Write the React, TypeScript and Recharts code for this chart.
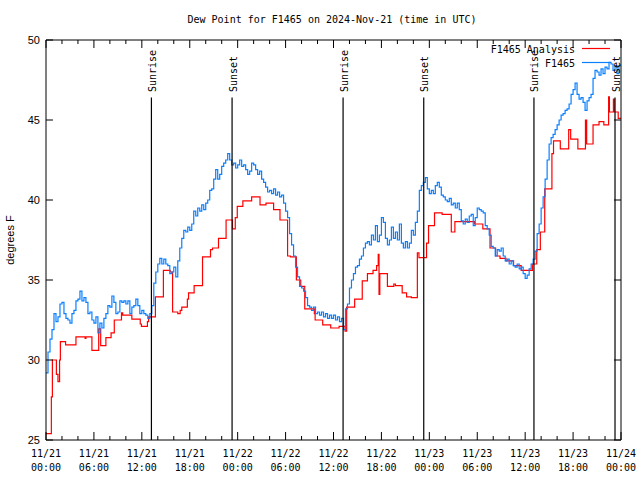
import React from 'react';
import { LineChart, Line, XAxis, YAxis, ReferenceLine } from 'recharts';

// ---------- data ----------
const xTickHours = [0, 2, 4, 6, 8, 10, 12, 14, 16, 18, 20, 22, 24, 26, 28, 30, 32, 34, 36, 38, 40, 42, 44, 46, 48, 50, 52, 54, 56, 58, 60, 62, 64, 66, 68, 70, 72];
const xTickDates = ['11/21', '11/21', '11/21', '11/21', '11/22', '11/22', '11/22', '11/22', '11/23', '11/23', '11/23', '11/23', '11/24'];
const xTickTimes = ['00:00', '06:00', '12:00', '18:00', '00:00', '06:00', '12:00', '18:00', '00:00', '06:00', '12:00', '18:00', '00:00'];
const yTicks = [25, 30, 35, 40, 45, 50];

const sunriseHours = [13.2, 37.2, 61.1];
const sunsetHours = [23.3, 47.3, 71.25];

// F1465 Analysis (hours since 11/21 00:00 UTC, value after change)
const redHours = [0, 0.67, 0.8, 1.3, 1.5, 1.7, 1.8, 2.45, 3.75, 4.9, 5.0, 5.75, 6.6, 6.85, 7.5, 8.15, 8.55, 9.45, 9.6, 10.75, 11.8, 11.95, 12.7, 12.85, 13.7, 14.7, 15.55, 15.85, 16.5, 16.8, 17.0, 17.7, 17.85, 18.55, 19.6, 20.6, 20.85, 21.6, 22.55, 23.35, 23.7, 23.95, 24.65, 25.75, 26.8, 27.55, 28.5, 29.3, 30.25, 30.6, 31.35, 31.9, 32.4, 33.6, 33.7, 34.65, 35.65, 36.7, 37.45, 37.65, 38.65, 39.6, 40.25, 40.95, 41.4, 41.6, 41.7, 41.8, 42.75, 43.55, 43.75, 44.6, 45.15, 45.75, 46.5, 46.7, 47.65, 47.9, 48.65, 49.6, 50.75, 51.2, 53.65, 54.7, 55.6, 56.3, 56.85, 57.6, 58.55, 59.5, 60.9, 61.45, 61.9, 62.45, 63.35, 63.55, 64.4, 65.45, 65.7, 66.6, 67.55, 67.7, 68.5, 69.25, 69.85, 70.45, 70.55, 71.05, 71.15, 71.65, 72];
const redValues = [25.4, 27.7, 30.0, 29.1, 28.65, 30.0, 31.15, 30.95, 31.45, 31.35, 31.45, 30.6, 31.95, 30.9, 31.4, 31.7, 32.5, 32.95, 32.8, 32.55, 32.25, 32.1, 32.4, 32.7, 33.95, 35.6, 35.5, 33.0, 32.9, 33.1, 33.3, 33.8, 34.2, 34.65, 36.45, 36.9, 37.0, 37.6, 38.75, 38.2, 38.9, 39.6, 39.95, 40.2, 39.7, 39.8, 39.4, 38.75, 36.5, 36.45, 35.0, 34.6, 33.2, 32.9, 32.5, 32.2, 32.0, 32.1, 31.8, 33.3, 33.8, 34.95, 35.4, 35.6, 35.9, 36.6, 34.1, 35.4, 34.6, 34.75, 34.65, 34.2, 33.95, 33.9, 36.7, 36.4, 37.3, 38.4, 39.2, 39.1, 38.0, 38.65, 38.5, 38.2, 37.0, 36.5, 36.35, 36.2, 35.9, 35.6, 36.0, 36.9, 38.0, 40.7, 42.9, 43.7, 43.2, 44.4, 43.8, 43.2, 45.0, 43.5, 44.7, 44.9, 44.7, 46.45, 45.5, 46.3, 45.5, 45.1, 45.1];

// F1465 observations, every 15 minutes from 11/21 00:00 UTC
const blueStepHours = 0.25;
const blueValues = [
  29.2, 30.5, 31.3, 31.9, 32.9, 32.4, 32.7, 33.5,
  33.6, 32.9, 32.6, 32.5, 32.3, 32.9, 33.1, 33.7,
  33.8, 34.3, 33.7, 33.9, 33.6, 32.9, 33.0, 32.5,
  32.3, 32.7, 31.7, 32.3, 32.0, 32.6, 32.9, 33.4,
  33.3, 34.0, 33.6, 32.9, 33.0, 33.7, 33.6, 33.7,
  33.5, 33.7, 32.9, 33.3, 33.4, 33.8, 33.4, 32.9,
  33.1, 32.9, 32.8, 32.6, 32.9, 33.4, 34.8, 35.5,
  36.0, 36.35, 36.0, 36.3, 36.0, 35.9, 35.4, 35.5,
  35.8, 35.2, 36.2, 37.0, 37.6, 38.1, 38.0, 38.3,
  38.1, 38.5, 39.3, 39.0, 39.5, 39.3, 39.7, 39.4,
  39.8, 40.0, 40.6, 40.7, 41.3, 41.9, 41.3, 41.6,
  42.1, 42.3, 42.5, 42.9, 42.5, 42.2, 42.3, 42.0,
  42.2, 42.5, 42.1, 42.2, 41.9, 41.6, 41.8, 42.3,
  42.2, 41.9, 41.6, 41.8, 41.3, 41.1, 40.8, 40.5,
  40.6, 40.4, 40.7, 40.3, 40.5, 40.2, 40.3, 39.8,
  39.3, 38.9, 37.9, 37.2, 36.5, 35.8, 35.2, 34.6,
  34.5, 34.3, 33.9, 33.4, 33.3, 33.1, 33.3, 32.9,
  33.0, 32.8, 33.0, 32.7, 32.9, 32.6, 32.8, 32.6,
  32.8, 32.5, 32.7, 32.4, 32.6, 31.9, 33.2, 33.5,
  34.5, 35.0, 35.4, 35.8, 35.9, 36.3, 36.5, 37.0,
  37.3, 37.4, 37.2, 37.8, 37.5, 38.4, 37.4, 37.8,
  38.9, 38.6, 37.6, 37.2, 37.5, 38.3, 37.6, 38.0,
  37.5, 38.5, 37.3, 37.0, 37.4, 37.0, 37.3, 38.1,
  37.8, 38.6, 39.3, 40.6, 40.9, 41.1, 41.4, 40.7,
  40.4, 40.6, 40.4, 40.9, 41.1, 40.8, 40.3, 40.2,
  40.0, 39.9, 40.1, 39.7, 39.8, 39.5, 39.8, 39.4,
  38.7, 38.5, 38.8, 38.6, 39.0, 39.1, 38.4, 38.9,
  39.5, 39.4, 39.3, 39.2, 38.4, 38.2, 37.8, 37.1,
  37.0, 36.5, 36.9, 36.8, 37.0, 36.5, 36.2, 36.3,
  36.0, 36.2, 35.9, 35.8, 36.0, 35.7, 35.8, 35.4,
  35.1, 35.3, 35.7, 36.0, 36.3, 36.8, 37.9, 38.5,
  39.5, 40.2, 41.3, 42.5, 43.5, 43.9, 44.1, 44.4,
  44.7, 45.0, 45.3, 45.4, 45.6, 45.7, 46.0, 46.6,
  46.9, 47.3, 46.6, 46.3, 46.4, 46.1, 45.6, 46.2,
  46.4, 46.6, 47.6, 48.1, 48.0, 47.8, 48.2, 47.9,
  48.3, 48.2, 48.6, 48.5, 48.1, 48.4, 47.9, 48.4,
  48.5,
];

const redData = redHours.map((h, i) => ({ h, v: redValues[i] }));
const blueData = blueValues.map((v, i) => ({ h: i * blueStepHours, v }));

// ---------- layout ----------
const W = 640;
const H = 480;
const PL = 46;
const PT = 40;
const PR = 621;
const PB = 440;
const MONO = '"DejaVu Sans Mono", monospace';
const SANS = '"Liberation Sans", Arial, sans-serif';
const RED = '#ff0000';
const BLUE = '#0a80ff';

const BottomTick = (props: any) => {
  const { x, payload } = props;
  const v = payload.value as number;
  const major = v % 6 === 0;
  const idx = v / 6;
  return (
    <g>
      <line x1={x} x2={x} y1={PB} y2={PB - (major ? 8 : 4)} stroke="#000" strokeWidth={1} />
      {major && (
        <text fontFamily={MONO} fontSize={10} fill="#000" textAnchor="middle">
          <tspan x={x} y={457}>{xTickDates[idx]}</tspan>
          <tspan x={x} y={471}>{xTickTimes[idx]}</tspan>
        </text>
      )}
    </g>
  );
};

const TopTick = (props: any) => {
  const { x, payload } = props;
  const v = payload.value as number;
  const major = v % 6 === 0;
  return <line x1={x} x2={x} y1={PT} y2={PT + (major ? 8 : 4)} stroke="#000" strokeWidth={1} />;
};

const LeftTick = (props: any) => {
  const { y, payload } = props;
  return (
    <g>
      <line x1={PL} x2={PL + 7} y1={y} y2={y} stroke="#000" strokeWidth={1} />
      <text x={40} y={y} dy={4} textAnchor="end" fontFamily={SANS} fontSize={11} fill="#000">
        {payload.value}
      </text>
    </g>
  );
};

const RightTick = (props: any) => {
  const { y } = props;
  return <line x1={PR - 7} x2={PR} y1={y} y2={y} stroke="#000" strokeWidth={1} />;
};

const makeLabel = (text: string) => (props: any) => {
  const vb = props.viewBox || {};
  const x = (vb.x ?? 0) + 1;
  const y = 92;
  return (
    <text
      x={x}
      y={y}
      transform={`rotate(-90, ${x}, ${y})`}
      textAnchor="start"
      dominantBaseline="central"
      fontFamily={MONO}
      fontSize={10}
      fill="#000"
    >
      {text}
    </text>
  );
};

const LINE_TOP = 46.4;

export default function App() {
  return (
    <div style={{ position: 'absolute', left: 0, top: 0, width: W, height: H, background: '#fff' }}>
      <LineChart width={W} height={H} margin={{ top: 0, right: 0, bottom: 0, left: 0 }}>
        <XAxis
          xAxisId="b"
          dataKey="h"
          type="number"
          domain={[0, 72]}
          ticks={xTickHours}
          interval={0}
          height={H - PB}
          allowDataOverflow
          axisLine={{ stroke: '#000', strokeWidth: 1 }}
          tickLine={false}
          tick={BottomTick}
        />
        <XAxis
          xAxisId="t"
          orientation="top"
          dataKey="h"
          type="number"
          domain={[0, 72]}
          ticks={xTickHours}
          interval={0}
          height={PT}
          allowDataOverflow
          axisLine={{ stroke: '#000', strokeWidth: 1 }}
          tickLine={false}
          tick={TopTick}
        />
        <YAxis
          yAxisId="l"
          type="number"
          domain={[25, 50]}
          ticks={yTicks}
          interval={0}
          width={PL}
          allowDataOverflow
          axisLine={{ stroke: '#000', strokeWidth: 1 }}
          tickLine={false}
          tick={LeftTick}
        />
        <YAxis
          yAxisId="r"
          orientation="right"
          type="number"
          domain={[25, 50]}
          ticks={yTicks}
          interval={0}
          width={W - PR}
          allowDataOverflow
          axisLine={{ stroke: '#000', strokeWidth: 1 }}
          tickLine={false}
          tick={RightTick}
        />
        <Line
          data={redData}
          dataKey="v"
          xAxisId="b"
          yAxisId="l"
          type="stepAfter"
          stroke={RED}
          strokeWidth={1.2}
          dot={false}
          activeDot={false}
          isAnimationActive={false}
        />
        <Line
          data={blueData}
          dataKey="v"
          xAxisId="t"
          yAxisId="r"
          type="stepAfter"
          stroke={BLUE}
          strokeWidth={1.2}
          dot={false}
          activeDot={false}
          isAnimationActive={false}
        />
        {sunriseHours.map((h) => (
          <ReferenceLine
            key={`sr${h}`}
            xAxisId="b"
            yAxisId="l"
            segment={[{ x: h, y: 25 }, { x: h, y: LINE_TOP }]}
            stroke="#000"
            strokeWidth={1.2}
            ifOverflow="visible"
            label={makeLabel('Sunrise')}
          />
        ))}
        {sunsetHours.map((h) => (
          <ReferenceLine
            key={`ss${h}`}
            xAxisId="b"
            yAxisId="l"
            segment={[{ x: h, y: 25 }, { x: h, y: LINE_TOP }]}
            stroke="#000"
            strokeWidth={1.2}
            ifOverflow="visible"
            label={makeLabel('Sunset')}
          />
        ))}
      </LineChart>
      <svg
        width={W}
        height={H}
        style={{ position: 'absolute', left: 0, top: 0, pointerEvents: 'none' }}
      >
        <text x={332} y={23} textAnchor="middle" fontFamily={MONO} fontSize={10} fill="#000">
          Dew Point for F1465 on 2024-Nov-21 (time in UTC)
        </text>
        <text
          x={14}
          y={240}
          transform="rotate(-90, 14, 240)"
          textAnchor="middle"
          fontFamily={SANS}
          fontSize={11}
          fill="#000"
        >
          degrees F
        </text>
        <text x={575} y={53} textAnchor="end" fontFamily={MONO} fontSize={10} fill="#000">
          F1465 Analysis
        </text>
        <line x1={582} x2={610} y1={48.5} y2={48.5} stroke={RED} strokeWidth={1.2} />
        <text x={575} y={67} textAnchor="end" fontFamily={MONO} fontSize={10} fill="#000">
          F1465
        </text>
        <line x1={582} x2={610} y1={62.5} y2={62.5} stroke={BLUE} strokeWidth={1.2} />
      </svg>
    </div>
  );
}
